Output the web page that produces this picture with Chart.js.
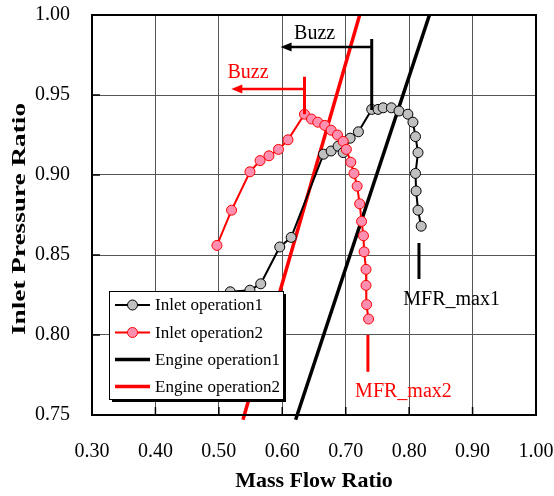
<!DOCTYPE html>
<html><head><meta charset="utf-8">
<script src="https://cdn.jsdelivr.net/npm/chart.js@4/dist/chart.umd.min.js"></script>
<style>html,body{margin:0;padding:0;background:#fff}#wrap{width:554px;height:496px}</style>
</head><body><div id="wrap"><canvas id="c" width="554" height="496"></canvas></div>
<script>
// ---- data ----
const inlet1MFR = [0.518,0.549,0.566,0.596,0.614,0.665,0.677,0.688,0.696,0.707,0.720,0.741,0.751,0.759,0.772,0.784,0.798,0.806,0.810,0.814,0.810,0.811,0.814,0.819];
const inlet1IPR = [0.827,0.828,0.832,0.855,0.861,0.913,0.915,0.918,0.914,0.923,0.927,0.941,0.941,0.942,0.942,0.940,0.938,0.933,0.924,0.914,0.901,0.890,0.878,0.868];
const inlet2MFR = [0.497,0.520,0.549,0.565,0.579,0.594,0.609,0.635,0.646,0.656,0.667,0.677,0.687,0.696,0.701,0.708,0.713,0.718,0.722,0.725,0.728,0.729,0.732,0.732,0.733,0.736];
const inlet2IPR = [0.856,0.878,0.902,0.909,0.912,0.916,0.922,0.938,0.935,0.933,0.931,0.928,0.925,0.921,0.916,0.908,0.901,0.893,0.882,0.871,0.862,0.852,0.841,0.831,0.819,0.810];
const engine1MFR = [0.621, 0.832];
const engine1IPR = [0.747, 1.000];
const engine2MFR = [0.538, 0.722];
const engine2IPR = [0.747, 1.000];
const xTicks = [0.30,0.40,0.50,0.60,0.70,0.80,0.90,1.00];
const yTicks = [0.75,0.80,0.85,0.90,0.95,1.00];
const seriesLabels = ['Inlet operation1','Inlet operation2','Engine operation1','Engine operation2'];
const xTitle = 'Mass Flow Ratio';
const yTitle = 'Inlet Pressure Ratio';

const FONT = '"Liberation Serif","Times New Roman",serif';
const pts = (xs, ys) => xs.map((x, i) => ({x: x, y: ys[i]}));

const decor = {
  id: 'decor',
  afterDatasetsDraw(chart) {
    const ctx = chart.ctx, a = chart.chartArea;
    const xs = chart.scales.x, ys = chart.scales.y;
    const X = v => xs.getPixelForValue(v), Y = v => ys.getPixelForValue(v);
    ctx.save();
    // frame
    ctx.strokeStyle = '#000'; ctx.lineWidth = 2;
    ctx.strokeRect(a.left, a.top, a.right - a.left, a.bottom - a.top);
    // inner ticks
    ctx.lineWidth = 1.5;
    xTicks.forEach(v => { ctx.beginPath(); ctx.moveTo(X(v), a.bottom); ctx.lineTo(X(v), a.bottom - 8); ctx.stroke(); });
    yTicks.forEach(v => { ctx.beginPath(); ctx.moveTo(a.left, Y(v)); ctx.lineTo(a.left + 8, Y(v)); ctx.stroke(); });

    function arrow(color, xv, y0, y1, yh, xt, lw) {
      ctx.strokeStyle = color; ctx.fillStyle = color; ctx.lineWidth = lw;
      ctx.beginPath(); ctx.moveTo(X(xv), Y(y0)); ctx.lineTo(X(xv), Y(y1)); ctx.stroke();
      ctx.lineWidth = 2.5;
      ctx.beginPath(); ctx.moveTo(X(xv), Y(yh)); ctx.lineTo(X(xt) + 9, Y(yh)); ctx.stroke();
      ctx.beginPath(); ctx.moveTo(X(xt), Y(yh)); ctx.lineTo(X(xt) + 11, Y(yh) - 4.5); ctx.lineTo(X(xt) + 11, Y(yh) + 4.5); ctx.closePath(); ctx.fill();
    }
    function label(text, color, xv, yv) {
      ctx.fillStyle = color; ctx.font = '20px ' + FONT; ctx.textAlign = 'center'; ctx.textBaseline = 'middle';
      ctx.fillText(text, X(xv), Y(yv));
    }
    // Buzz annotations
    arrow('#000', 0.741, 0.9406, 0.985, 0.980, 0.5973, 3);
    label('Buzz', '#000', 0.651, 0.988);
    arrow('#ff0000', 0.635, 0.938, 0.9614, 0.9538, 0.5196, 3);
    label('Buzz', '#ff0000', 0.546, 0.964);
    // MFR_max marks
    ctx.lineWidth = 3;
    ctx.strokeStyle = '#000';
    ctx.beginPath(); ctx.moveTo(X(0.8155), Y(0.8575)); ctx.lineTo(X(0.8155), Y(0.835)); ctx.stroke();
    label('MFR_max1', '#000', 0.867, 0.822);
    ctx.strokeStyle = '#ff0000';
    ctx.beginPath(); ctx.moveTo(X(0.735), Y(0.800)); ctx.lineTo(X(0.735), Y(0.777)); ctx.stroke();
    label('MFR_max2', '#ff0000', 0.791, 0.7646);

    // legend
    const L = 109, T = 291, W = 174, H = 108;
    ctx.fillStyle = '#000'; ctx.fillRect(L + 3, T + 3, W, H);
    ctx.fillStyle = '#fff'; ctx.fillRect(L, T, W, H);
    ctx.strokeStyle = '#000'; ctx.lineWidth = 1; ctx.strokeRect(L + 0.5, T + 0.5, W, H);
    const rows = [305, 332.5, 359.5, 386.5];
    chart.data.datasets.forEach((ds, i) => {
      const yy = rows[i];
      ctx.strokeStyle = ds.borderColor; ctx.lineWidth = ds.borderWidth;
      ctx.beginPath(); ctx.moveTo(115, yy); ctx.lineTo(150, yy); ctx.stroke();
      if (ds.pointRadius > 0) {
        ctx.beginPath(); ctx.arc(132.5, yy, ds.pointRadius, 0, Math.PI * 2);
        ctx.fillStyle = ds.pointBackgroundColor; ctx.fill();
        ctx.lineWidth = ds.pointBorderWidth; ctx.strokeStyle = ds.pointBorderColor; ctx.stroke();
      }
      ctx.fillStyle = '#000'; ctx.font = '17px ' + FONT; ctx.textAlign = 'left'; ctx.textBaseline = 'middle';
      ctx.fillText(ds.label, 155, yy + 1);
    });

    // y-axis title (stretched as in the reference)
    ctx.save();
    ctx.font = 'bold 19px ' + FONT;
    const w = ctx.measureText(yTitle).width;
    ctx.translate(25, 219); ctx.rotate(-Math.PI / 2);
    ctx.scale(232 / w, 1);
    ctx.fillStyle = '#000'; ctx.textAlign = 'center'; ctx.textBaseline = 'alphabetic';
    ctx.fillText(yTitle, 0, 0);
    ctx.restore();
    ctx.restore();
  }
};

new Chart(document.getElementById('c'), {
  type: 'line',
  data: {
    datasets: [
      { label: seriesLabels[0], data: pts(inlet1MFR, inlet1IPR), borderColor: '#000', borderWidth: 2,
        pointRadius: 5, pointBackgroundColor: '#c0c0c0', pointBorderColor: '#000', pointBorderWidth: 1, order: 2 },
      { label: seriesLabels[1], data: pts(inlet2MFR, inlet2IPR), borderColor: '#ff0000', borderWidth: 2,
        pointRadius: 5, pointBackgroundColor: '#ff8fb0', pointBorderColor: '#ff0000', pointBorderWidth: 1, order: 1 },
      { label: seriesLabels[2], data: pts(engine1MFR, engine1IPR), borderColor: '#000', borderWidth: 3.5,
        pointRadius: 0, order: 4, clip: {left: 5, top: 0, right: 5, bottom: 7} },
      { label: seriesLabels[3], data: pts(engine2MFR, engine2IPR), borderColor: '#ff0000', borderWidth: 3.5,
        pointRadius: 0, order: 3, clip: {left: 5, top: 0, right: 5, bottom: 7} }
    ]
  },
  options: {
    responsive: false, animation: false, devicePixelRatio: 1,
    layout: { padding: { left: 0, right: 18, top: 15, bottom: 0 } },
    elements: { line: { tension: 0, fill: false } },
    plugins: { legend: { display: false }, tooltip: { enabled: false } },
    scales: {
      x: {
        type: 'linear', min: 0.30, max: 1.00,
        afterBuildTicks: s => { s.ticks = xTicks.map(v => ({value: v})); },
        afterFit: s => { s.height = 81; s.paddingLeft = 0; s.paddingRight = 0; s.paddingTop = 0; s.paddingBottom = 0; },
        grid: { color: '#555', lineWidth: 1, drawTicks: false },
        border: { display: false },
        ticks: { color: '#000', font: { family: FONT, size: 20 }, padding: 25, maxRotation: 0, autoSkip: false,
                 callback: v => Number(v).toFixed(2) },
        title: { display: true, text: xTitle, color: '#000', font: { family: FONT, size: 22, weight: 'bold' },
                 padding: { top: 0, bottom: 1 } }
      },
      y: {
        type: 'linear', min: 0.75, max: 1.00,
        afterBuildTicks: s => { s.ticks = yTicks.map(v => ({value: v})); },
        afterFit: s => { s.width = 92; s.paddingLeft = 0; s.paddingRight = 0; s.paddingTop = 0; s.paddingBottom = 0; },
        grid: { color: '#555', lineWidth: 1, drawTicks: false },
        border: { display: false },
        ticks: { color: '#000', font: { family: FONT, size: 20 }, padding: 22, autoSkip: false,
                 callback: v => Number(v).toFixed(2) },
        title: { display: false }
      }
    }
  },
  plugins: [decor]
});
</script></body></html>
